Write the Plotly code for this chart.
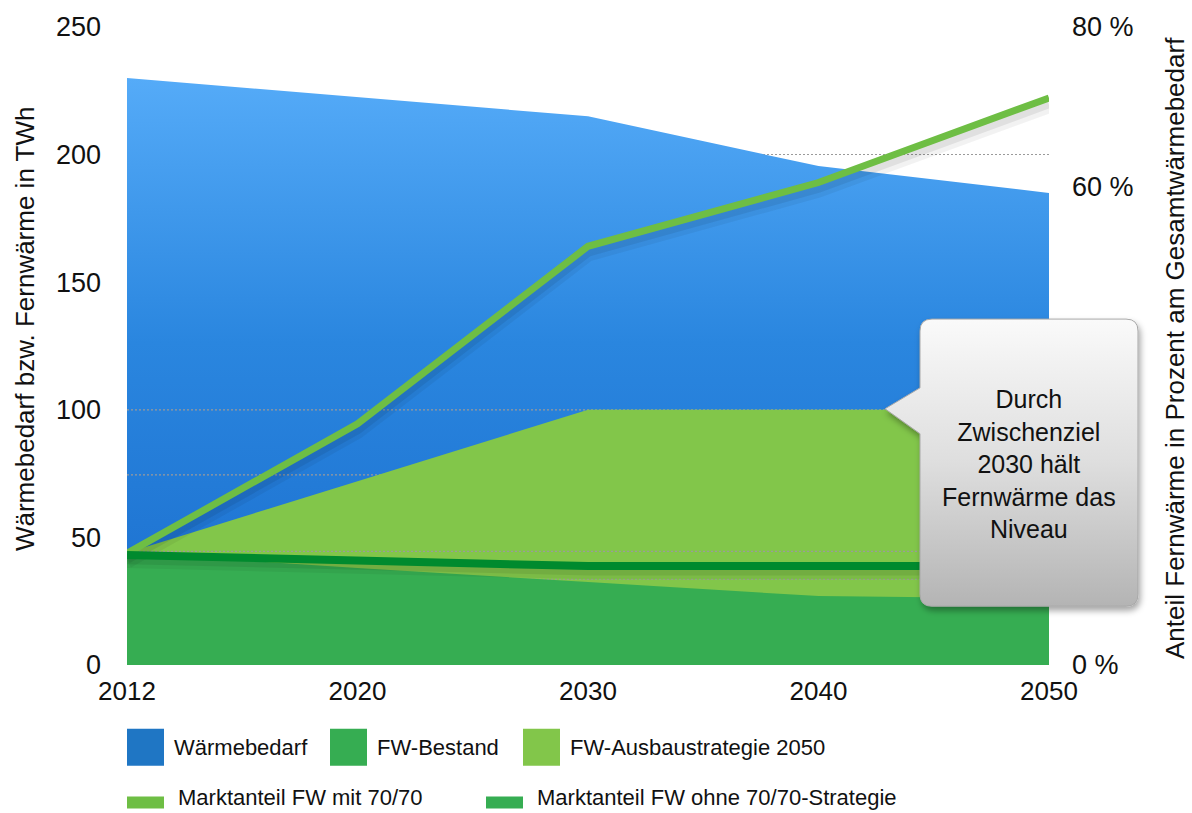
import base64
import plotly.graph_objects as go

# ---- data -------------------------------------------------------------
years = ["2012", "2020", "2030", "2040", "2050"]
waermebedarf = [230, 222.5, 215, 195.5, 185]          # TWh
fw_ausbau = [44, 72, 100, 100, 100]                   # TWh
fw_bestand = [44, 38, 32.5, 27, 26]                   # TWh
anteil_mit = [14.0, 30.25, 52.5, 60.5, 71.1]          # %
anteil_ohne = [13.8, 13.0, 12.4, 12.4, 12.4]          # %

left_ticks = [0, 50, 100, 150, 200, 250]
right_ticks = [0, 60, 80]
right_ticktext = ["0 %", "60 %", "80 %"]
grid_over_blue = [100, 74.5]
grid_over_green = [44.5, 33.6]

callout_text = "Durch<br>Zwischenziel<br>2030 hält<br>Fernwärme das<br>Niveau"
legend_areas = [("Wärmebedarf", "#1f76c4"), ("FW-Bestand", "#36ad52"),
                ("FW-Ausbaustrategie 2050", "#82c64a")]
legend_lines = [("Marktanteil FW mit 70/70", "#6ebe44"),
                ("Marktanteil FW ohne 70/70-Strategie", "#36ad52")]

# ---- geometry ---------------------------------------------------------
W, H = 1192, 813
PL, PR, PT, PB = 127, 1049, 25, 665          # plot area in pixels
FONT = "Liberation Sans, Arial, sans-serif"


def px_x(x):
    return (x - PL) / (PR - PL)


def px_y(y):
    return (PB - y) / (PB - PT)


fig = go.Figure()

# heat demand area with vertical gradient
fig.add_trace(go.Scatter(
    x=years, y=waermebedarf, mode="lines", line=dict(width=0),
    fill="tozeroy",
    fillgradient=dict(type="vertical",
                      colorscale=[[0, "#1a6dcd"], [0.55, "#2a86df"], [1, "#55abf8"]]),
    showlegend=False, hoverinfo="skip"))


def grid_trace(levels):
    gx, gy = [], []
    for lv in levels:
        gx += [years[0], years[-1], None]
        gy += [lv, lv, None]
    return go.Scatter(x=gx, y=gy, mode="lines",
                      line=dict(color="#9a9a9a", width=1.2, dash="2px,2px"),
                      showlegend=False, hoverinfo="skip")


fig.add_trace(grid_trace(grid_over_blue))

fig.add_trace(go.Scatter(
    x=years, y=fw_ausbau, mode="lines", line=dict(width=0),
    fill="tozeroy", fillcolor="#82c64a", showlegend=False, hoverinfo="skip"))

fig.add_trace(grid_trace(grid_over_green))

fig.add_trace(go.Scatter(
    x=years, y=fw_bestand, mode="lines", line=dict(width=0),
    fill="tozeroy", fillcolor="#36ad52", showlegend=False, hoverinfo="skip"))

# soft shadows under the share lines
for off, wd, op in [(0.9, 16, 0.05), (0.6, 11, 0.07)]:
    fig.add_trace(go.Scatter(
        x=years, y=[v - off for v in anteil_mit], yaxis="y2", mode="lines",
        line=dict(color=f"rgba(0,0,0,{op})", width=wd),
        showlegend=False, hoverinfo="skip"))
fig.add_trace(go.Scatter(
    x=years, y=anteil_mit, yaxis="y2", mode="lines",
    line=dict(color="#6ebe44", width=7), showlegend=False))

for off, wd, op in [(0.9, 12, 0.05), (0.6, 9, 0.07)]:
    fig.add_trace(go.Scatter(
        x=years, y=[v - off for v in anteil_ohne], yaxis="y2", mode="lines",
        line=dict(color=f"rgba(0,0,0,{op})", width=wd),
        showlegend=False, hoverinfo="skip"))
fig.add_trace(go.Scatter(
    x=years, y=anteil_ohne, yaxis="y2", mode="lines",
    line=dict(color="#008a2e", width=8), showlegend=False))

# ---- callout box (svg with gradient and drop shadow) ------------------
ox, oy, bw, bh = 880, 310, 270, 312
svg = f"""<svg xmlns='http://www.w3.org/2000/svg' width='{bw}' height='{bh}' viewBox='0 0 {bw} {bh}'>
<defs>
<linearGradient id='g' x1='0' y1='0' x2='0' y2='1'>
<stop offset='0' stop-color='#fafafa'/><stop offset='0.5' stop-color='#dedede'/>
<stop offset='1' stop-color='#b4b4b4'/></linearGradient>
<filter id='s' x='-10%' y='-10%' width='130%' height='130%'>
<feDropShadow dx='2' dy='4' stdDeviation='3' flood-color='#000' flood-opacity='0.35'/></filter>
</defs>
<path d='M 52 8 H 246 Q 258 8 258 20 V 284 Q 258 296 246 296 H 52 Q 40 296 40 284
V 123 L 5 98 L 40 77 V 20 Q 40 8 52 8 Z' fill='url(#g)' stroke='#a8a8a8' stroke-width='1' filter='url(#s)'/>
</svg>"""
uri = "data:image/svg+xml;base64," + base64.b64encode(svg.encode()).decode()
images = [dict(source=uri, xref="paper", yref="paper", x=px_x(ox), y=px_y(oy),
               sizex=bw / (PR - PL), sizey=bh / (PB - PT), xanchor="left",
               yanchor="top", sizing="stretch", layer="above")]

annotations = [
    dict(text=callout_text, x=px_x(1029), y=px_y(463), xref="paper", yref="paper",
         showarrow=False, font=dict(size=25, color="#111", family=FONT),
         align="center", xanchor="center", yanchor="middle"),
    dict(text="Wärmebedarf bzw. Fernwärme in TWh", x=px_x(25), y=px_y(328),
         xref="paper", yref="paper", showarrow=False, textangle=-90,
         font=dict(size=26, color="#111", family=FONT),
         xanchor="center", yanchor="middle"),
    dict(text="Anteil Fernwärme in Prozent am Gesamtwärmebedarf", x=px_x(1175),
         y=px_y(347), xref="paper", yref="paper", showarrow=False, textangle=-90,
         font=dict(size=26, color="#111", family=FONT),
         xanchor="center", yanchor="middle"),
]

# ---- hand-built legend ------------------------------------------------
shapes = []
area_x = [127, 330, 523]
for (name, col), lx in zip(legend_areas, area_x):
    shapes.append(dict(type="rect", xref="paper", yref="paper",
                       x0=px_x(lx), x1=px_x(lx + 37), y0=px_y(729), y1=px_y(766),
                       fillcolor=col, line=dict(width=0)))
    annotations.append(dict(text=name, x=px_x(lx + 45), y=px_y(748), xref="paper",
                            yref="paper", showarrow=False, xanchor="left",
                            yanchor="middle",
                            font=dict(size=22, color="#111", family=FONT)))
line_x = [127, 486]
for (name, col), lx in zip(legend_lines, line_x):
    shapes.append(dict(type="rect", xref="paper", yref="paper",
                       x0=px_x(lx), x1=px_x(lx + 37), y0=px_y(797), y1=px_y(809),
                       fillcolor=col, line=dict(width=0)))
    annotations.append(dict(text=name, x=px_x(lx + 49), y=px_y(798), xref="paper",
                            yref="paper", showarrow=False, xanchor="left",
                            yanchor="middle",
                            font=dict(size=22, color="#111", family=FONT)))

fig.update_layout(
    width=W, height=H,
    margin=dict(l=PL, r=W - PR, t=PT, b=H - PB, pad=0),
    paper_bgcolor="white", plot_bgcolor="white",
    font=dict(family=FONT, size=26, color="#111"),
    showlegend=False,
    xaxis=dict(type="category", range=[0, 4], showgrid=False, showline=False,
               zeroline=False, ticks="", ticklabelstandoff=8,
               tickfont=dict(size=26, color="#111")),
    yaxis=dict(range=[0, 250], tickvals=left_ticks, showgrid=True,
               gridcolor="#9a9a9a", griddash="2px,2px", gridwidth=1,
               zeroline=False, showline=False, ticks="", ticklabelstandoff=25,
               tickfont=dict(size=27, color="#111")),
    yaxis2=dict(range=[0, 80], overlaying="y", side="right", tickvals=right_ticks,
                ticktext=right_ticktext, showgrid=False, zeroline=False,
                showline=False, ticks="", ticklabelstandoff=22,
                tickfont=dict(size=27, color="#111")),
    shapes=shapes, annotations=annotations, images=images,
)

fig.write_html("out.html")
